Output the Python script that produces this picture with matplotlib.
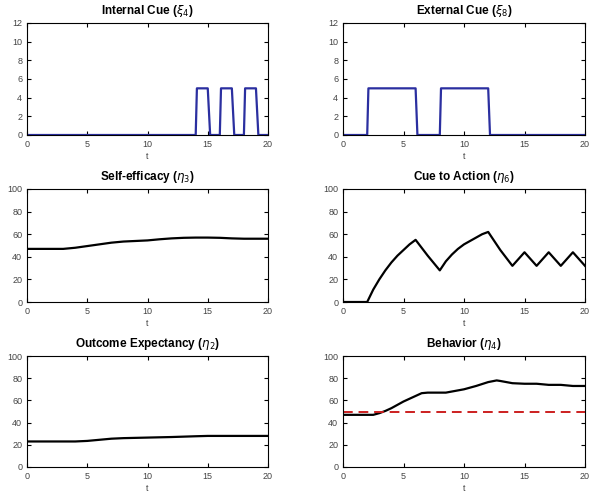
import matplotlib
matplotlib.use('Agg')
import matplotlib.pyplot as plt
import numpy as np

# Internal cue (xi_4)
t_int = [0, 14, 14.1, 15, 15.2, 16, 16.1, 17, 17.2, 18, 18.1, 19, 19.2, 20]
v_int = [0, 0, 5, 5, 0, 0, 5, 5, 0, 0, 5, 5, 0, 0]

# External cue (xi_8)
t_ext = [0, 2, 2.1, 6, 6.15, 8, 8.1, 12, 12.15, 20]
v_ext = [0, 0, 5, 5, 0, 0, 5, 5, 0, 0]

# Self-efficacy (eta_3)
t_se = [0, 3, 4, 5, 6, 7, 8, 9, 10, 11, 12, 13, 14, 15, 16, 17, 18, 19, 20]
v_se = [47, 47, 48, 49.5, 51, 52.5, 53.5, 54, 54.5, 55.5, 56.3, 56.8, 57, 57, 56.8, 56.3, 56, 56, 56]

# Cue to action (eta_6)
t_ca = [0, 2, 2.5, 3, 3.5, 4, 4.5, 5, 5.5, 6, 7, 8, 8.5, 9, 9.5, 10, 10.5, 11, 11.5, 12,
        13, 14, 15, 16, 17, 18, 19, 20]
v_ca = [0, 0, 11, 20, 28, 35, 41, 46, 51, 55, 41, 28, 36, 42, 47, 51, 54, 57, 60, 62,
        46, 32, 44, 32, 44, 32, 44, 32]

# Outcome expectancy (eta_2)
t_oe = [0, 4, 5, 6, 7, 8, 10, 12, 14, 15, 16, 18, 20]
v_oe = [23, 23, 23.5, 24.5, 25.5, 26, 26.5, 27, 27.7, 28, 28, 28, 28]

# Behavior (eta_4)
t_be = [0, 2.5, 3, 3.5, 4, 5, 6, 6.5, 7, 8, 8.5, 9, 10, 11, 12, 12.7, 13, 14, 15, 16, 17, 18, 19, 20]
v_be = [47, 47, 48.5, 50.5, 53, 59, 64, 66.5, 67, 67, 67, 68, 70, 73, 76.5, 78, 77.5, 75.5, 75, 75, 74, 74, 73, 73]
threshold = 50

plt.rcParams['font.family'] = 'Liberation Sans'

fig = plt.figure(figsize=(6, 5), dpi=100)
W, H = 600., 500.
boxes = [(27, 23, 268, 135), (343, 23, 585, 135),
         (27, 189, 268, 302), (343, 189, 585, 302),
         (27, 356, 268, 467), (343, 356, 585, 467)]
axes = []
for x0, y0, x1, y1 in boxes:
    axes.append(fig.add_axes([x0 / W, 1 - y1 / H, (x1 - x0) / W, (y1 - y0) / H]))

blue = '#2b2fa0'
series = [
    (t_int, v_int, blue, r'Internal Cue ($\xi_4$)', 12, np.arange(0, 13, 2)),
    (t_ext, v_ext, blue, r'External Cue ($\xi_8$)', 12, np.arange(0, 13, 2)),
    (t_se, v_se, 'black', r'Self-efficacy ($\eta_3$)', 100, np.arange(0, 101, 20)),
    (t_ca, v_ca, 'black', r'Cue to Action ($\eta_6$)', 100, np.arange(0, 101, 20)),
    (t_oe, v_oe, 'black', r'Outcome Expectancy ($\eta_2$)', 100, np.arange(0, 101, 20)),
    (t_be, v_be, 'black', r'Behavior ($\eta_4$)', 100, np.arange(0, 101, 20)),
]

for ax, (t, v, c, title, ymax, yt) in zip(axes, series):
    ax.plot(t, v, color=c, lw=1.6)
    ax.set_xlim(0, 20)
    ax.set_ylim(0, ymax)
    ax.set_xticks(np.arange(0, 21, 5))
    ax.set_yticks(yt)
    ax.tick_params(direction='in', top=True, right=True, labelsize=6.5,
                   length=3, width=0.8, labelcolor='#444444', pad=3.5)
    ax.set_xlabel('t', fontsize=6.5, labelpad=2, color='#444444')
    ax.set_title(title, fontsize=8.5, fontweight='bold', pad=6.5)
    for s in ax.spines.values():
        s.set_linewidth(0.8)

axes[5].axhline(threshold, color='#cc1f1f', lw=1.4, ls=(0, (5, 3)))

fig.savefig('out.png', dpi=100)
